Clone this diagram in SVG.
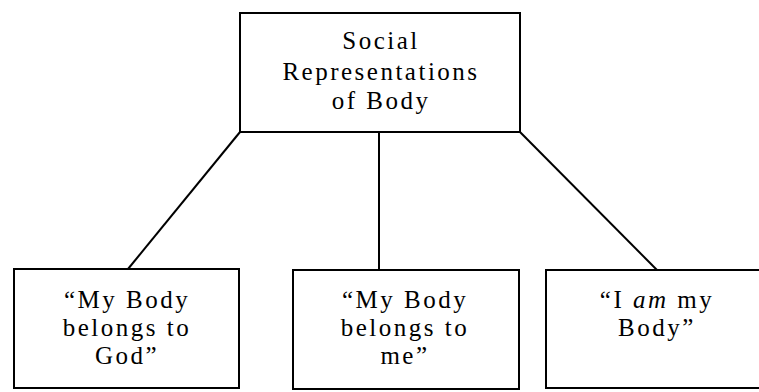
<svg xmlns="http://www.w3.org/2000/svg" width="759" height="392" viewBox="0 0 759 392">
<style>
.box{fill:#fff;stroke:#000;stroke-width:2}
.ln{stroke:#000;stroke-width:2;fill:none}
.t{font-family:'Liberation Serif','Tinos','Times New Roman','DejaVu Serif',serif;font-size:25px;fill:#000;text-anchor:middle;letter-spacing:2.5px}
</style>
<rect width="759" height="392" fill="#fff"/>
<g id="connectors">
<line class="ln" x1="240" y1="132" x2="128" y2="269"/>
<line class="ln" x1="379" y1="132" x2="379" y2="270"/>
<line class="ln" x1="520" y1="132" x2="657" y2="270"/>
</g>
<g id="root">
<rect class="box" x="240" y="13" width="280" height="119"/>
<text class="t" x="381" y="49">Social</text>
<text class="t" x="381" y="80">Representations</text>
<text class="t" x="381" y="109">of Body</text>
</g>
<g id="god">
<rect class="box" x="14" y="269" width="225" height="119"/>
<text class="t" x="127" y="308">“My Body</text>
<text class="t" x="127" y="336">belongs to</text>
<text class="t" x="127" y="364">God”</text>
</g>
<g id="me">
<rect class="box" x="293" y="270" width="226" height="119"/>
<text class="t" x="405" y="308">“My Body</text>
<text class="t" x="405" y="336">belongs to</text>
<text class="t" x="405" y="364">me”</text>
</g>
<g id="iam">
<rect class="box" x="546" y="270" width="222" height="118"/>
<text class="t" x="657" y="308">“I <tspan font-style="italic">am</tspan> my</text>
<text class="t" x="657" y="336">Body”</text>
</g>
</svg>
